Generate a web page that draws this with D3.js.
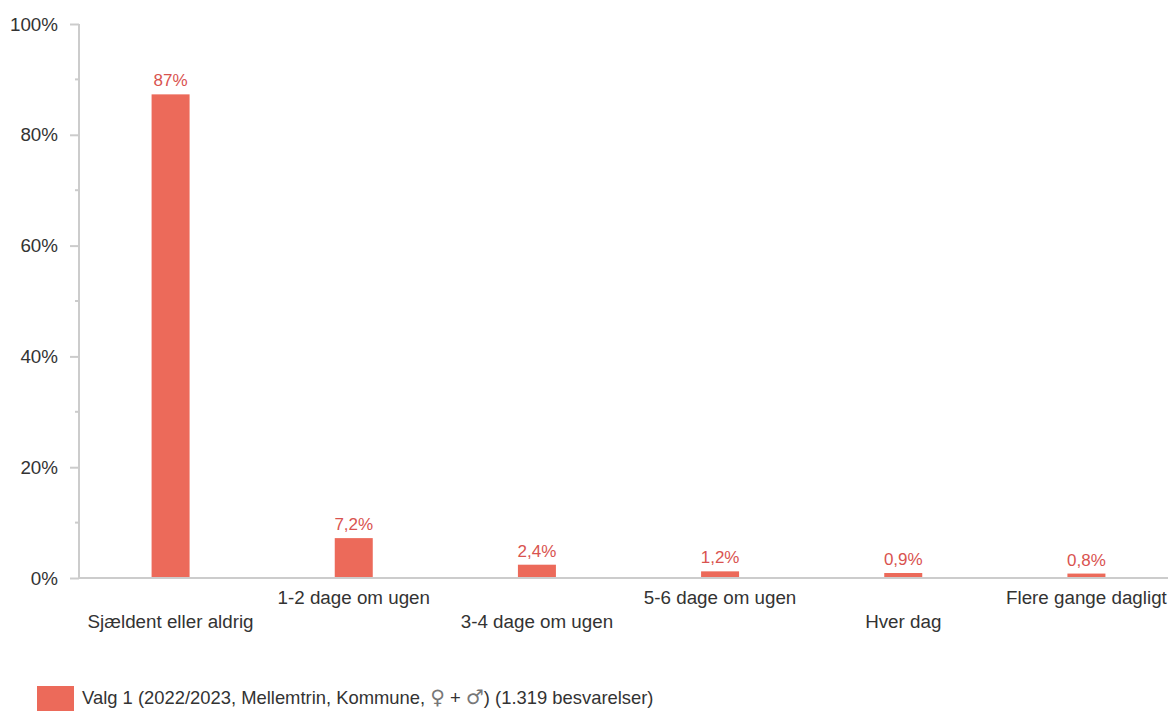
<!DOCTYPE html>
<html lang="da">
<head>
<meta charset="UTF-8">
<title>Valg 1</title>
<script src="https://d3js.org/d3.v7.min.js"></script>
<style>
  body { margin: 0; padding: 0; background: #fff; font-family: "Liberation Sans", Arial, sans-serif; overflow: hidden; }
  .tick text { fill: #333; font-size: 18.8px; }
  .cat { fill: #333; font-size: 18.8px; text-anchor: middle; }
  .val { fill: #d9534f; font-size: 17px; text-anchor: middle; }
  .sym { font-family: "DejaVu Sans", sans-serif; fill: #777; }
</style>
</head>
<body>
<svg id="chart" width="1168" height="711"></svg>
<script>
// Kategorier og værdier (procent)
const categories = ["Sjældent eller aldrig", "1-2 dage om ugen", "3-4 dage om ugen", "5-6 dage om ugen", "Hver dag", "Flere gange dagligt"];
const values = [87.3, 7.2, 2.4, 1.2, 0.9, 0.8];
const valueLabels = ["87%", "7,2%", "2,4%", "1,2%", "0,9%", "0,8%"];
const yTicks = [0, 20, 40, 60, 80, 100];
const legendParts = ["Valg 1 (2022/2023, Mellemtrin, Kommune, ", "\u2640", " + ", "\u2642", ") (1.319 besvarelser)"];

const barColor = "#ec6a5a";
const axisColor = "#cccccc";

const svg = d3.select("#chart");

const x = d3.scaleBand().domain(categories).range([79, 1178]);
const y = d3.scaleLinear().domain([0, 100]).range([578, 24]);

// Y-akse
const yAxis = svg.append("g").attr("transform", "translate(79,0)")
  .call(d3.axisLeft(y).tickValues(yTicks).tickSize(9).tickPadding(12).tickFormat(d => d + "%"));
yAxis.select(".domain").attr("stroke", axisColor).attr("stroke-width", 2).attr("d", "M0,24V579");
yAxis.selectAll(".tick line").attr("stroke", axisColor).attr("stroke-width", 2);
yAxis.selectAll(".tick text").attr("font-family", "Liberation Sans, Arial, sans-serif");

// Små mellemstreger
svg.append("g").selectAll("line")
  .data(d3.range(10, 100, 20))
  .join("line")
  .attr("x1", 75).attr("x2", 79)
  .attr("y1", d => y(d)).attr("y2", d => y(d))
  .attr("stroke", axisColor).attr("stroke-width", 2);

// Søjler
svg.append("g").selectAll("rect")
  .data(values)
  .join("rect")
  .attr("x", (d, i) => x(categories[i]) + x.bandwidth() / 2 - 19)
  .attr("width", 38)
  .attr("y", d => y(d))
  .attr("height", d => y(0) - y(d))
  .attr("fill", barColor);

// X-akse linje
svg.append("line")
  .attr("x1", 78).attr("x2", 1168)
  .attr("y1", 578).attr("y2", 578)
  .attr("stroke", axisColor).attr("stroke-width", 2);

// Værdietiketter
svg.append("g").selectAll("text")
  .data(values)
  .join("text")
  .attr("class", "val")
  .attr("x", (d, i) => x(categories[i]) + x.bandwidth() / 2)
  .attr("y", d => y(d) - 8)
  .text((d, i) => valueLabels[i]);

// Kategorietiketter (forskudt)
svg.append("g").selectAll("text")
  .data(categories)
  .join("text")
  .attr("class", "cat")
  .attr("x", d => x(d) + x.bandwidth() / 2)
  .attr("y", (d, i) => i % 2 === 0 ? 628 : 604)
  .text(d => d);

// Forklaring
const legend = svg.append("g").attr("transform", "translate(37,686)");
legend.append("rect").attr("width", 37).attr("height", 25).attr("fill", barColor);
const lt = legend.append("text").attr("x", 45).attr("y", 18)
  .attr("fill", "#333").attr("font-size", 18.4);
lt.selectAll("tspan")
  .data(legendParts)
  .join("tspan")
  .attr("class", (d, i) => i === 1 || i === 3 ? "sym" : null)
  .attr("font-size", (d, i) => i === 1 || i === 3 ? 20 : null)
  .text(d => d);
</script>
</body>
</html>
